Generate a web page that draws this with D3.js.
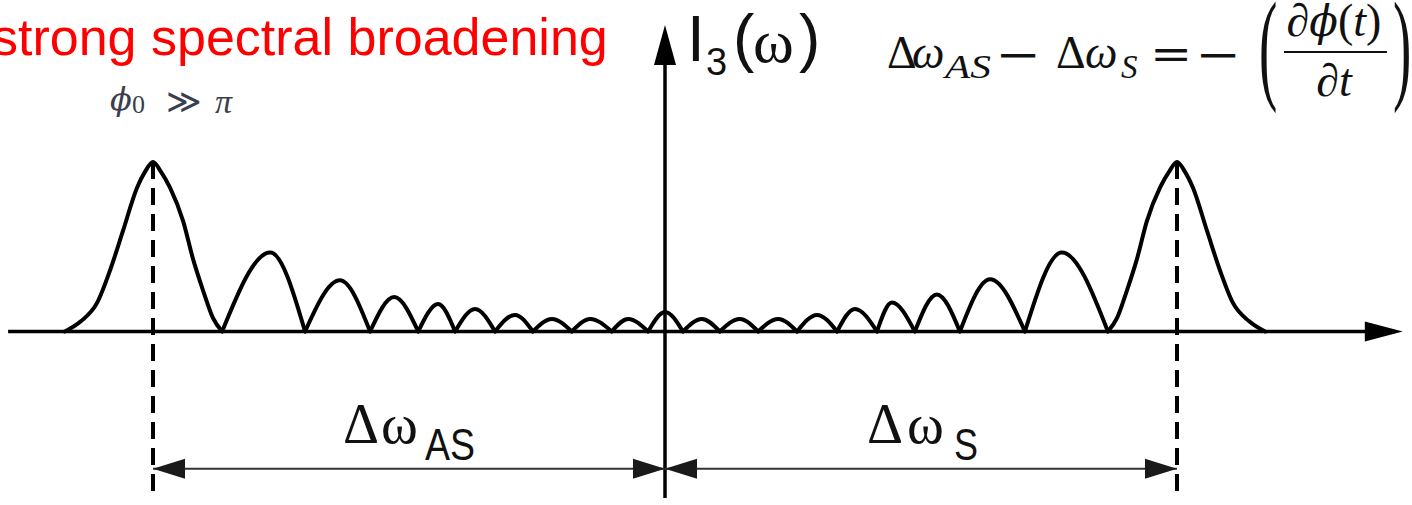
<!DOCTYPE html>
<html>
<head>
<meta charset="utf-8">
<script src="https://cdn.jsdelivr.net/npm/d3@7"></script>
<style>
  html, body { margin: 0; padding: 0; background: #fff; overflow: hidden; }
  svg { display: block; }
</style>
</head>
<body>
<svg id="chart" width="1412" height="505"></svg>
<script>
// Third-order spectrum I3(ω) under strong self-phase modulation.
// Frequency offset in arbitrary units (anti-Stokes / Stokes maxima at ∓10),
// intensity normalised so that the outer maxima equal 100.
const omega = [
  -11.72, -11.41, -11.09, -10.84, -10.59, -10.31, -10.16, -10.0, -9.84, -9.67, -9.41, -9.22, -9.02, -8.83,
  -8.65, -7.71, -7.03, -6.35, -5.76, -5.29, -4.82, -4.43, -4.10, -3.71, -3.32, -2.93,
  -2.58, -2.21, -1.82, -1.46, -1.04, -0.72, -0.33, 0.0, 0.35, 0.72, 1.07, 1.46,
  1.82, 2.21, 2.58, 2.97, 3.36, 3.71, 4.14, 4.43, 4.88, 5.31, 5.76, 6.35,
  7.03, 7.75, 8.65, 8.83, 9.02, 9.22, 9.41, 9.67, 9.84, 10.0, 10.16, 10.31, 10.59, 10.84,
  11.09, 11.41, 11.72
];
const intensity = [
  0, 6, 17, 36, 59, 85, 94, 100, 94, 85, 65, 43, 24, 8,
  0, 46.6, 0, 30.2, 0, 20.3, 0, 16.2, 0, 13.3, 0, 9.8,
  0, 7.4, 0, 7.4, 0, 7.4, 0, 11.5, 0, 7.4, 0, 7.4,
  0, 7.4, 0, 9.8, 0, 13.3, 0, 17.1, 0, 21.9, 0, 30.8,
  0, 46.6, 0, 8, 24, 43, 65, 85, 94, 100, 94, 85, 59, 36,
  17, 6, 0
];

// Spectral shifts marked below the axis
const shiftOmega = [-10, 0, 10];
const shiftLabels = ["AS", "S"];

// Extent of the drawn axes, in data units
const omegaAxisRange = [-12.83, 14.41];
const intensityAxisRange = [-98.2, 180.8];
const dimensionLevel = -81;

const svg = d3.select("#chart");
svg.append("rect").attr("width", 1412).attr("height", 505).attr("fill", "#fff");

const x = d3.scaleLinear().domain([-10, 10]).range([153, 1177]);
const y = d3.scaleLinear().domain([0, 100]).range([331.5, 162]);

// ---- axes ----
const ax0 = x(omegaAxisRange[0]), ax1 = x(omegaAxisRange[1]);
const ay0 = y(intensityAxisRange[0]), ay1 = y(intensityAxisRange[1]);
const x0 = x(0), y0 = y(0);

svg.append("line")
  .attr("x1", ax0).attr("x2", ax1 - 30).attr("y1", y0).attr("y2", y0)
  .attr("stroke", "#000").attr("stroke-width", 3.5);
svg.append("path")
  .attr("d", `M${ax1},${y0} L${ax1 - 38},${y0 - 10} L${ax1 - 38},${y0 + 10} Z`)
  .attr("fill", "#000");

svg.append("line")
  .attr("x1", x0).attr("x2", x0).attr("y1", ay0).attr("y2", ay1 + 30)
  .attr("stroke", "#000").attr("stroke-width", 3.5);
svg.append("path")
  .attr("d", `M${x0},${ay1} L${x0 - 11},${ay1 + 40} L${x0 + 11},${ay1 + 40} Z`)
  .attr("fill", "#000");

// ---- dashed markers at the outermost maxima ----
[shiftOmega[0], shiftOmega[2]].forEach(w => {
  svg.append("line")
    .attr("x1", x(w)).attr("x2", x(w))
    .attr("y1", y(100)).attr("y2", ay0)
    .attr("stroke", "#000").attr("stroke-width", 4)
    .attr("stroke-dasharray", "17,9");
});

// ---- spectrum: each lobe runs from one zero to the next ----
const points = omega.map((w, i) => [w, intensity[i]]);
const lobes = [];
let current = [points[0]];
for (let i = 1; i < points.length; i++) {
  current.push(points[i]);
  if (points[i][1] === 0) {
    lobes.push(current);
    current = [points[i]];
  }
}
const lobeLine = d3.line()
  .x(d => x(d[0]))
  .y(d => y(d[1]))
  .curve(d3.curveMonotoneX);

svg.append("g").selectAll("path").data(lobes).join("path")
  .attr("d", lobeLine)
  .attr("fill", "none")
  .attr("stroke", "#000")
  .attr("stroke-width", 4)
  .attr("stroke-linecap", "round")
  .attr("stroke-linejoin", "round");

// ---- dimension arrows Δω_AS and Δω_S ----
const yd = y(dimensionLevel);
const dim = svg.append("g");
for (let k = 0; k < 2; k++) {
  const a = x(shiftOmega[k]), b = x(shiftOmega[k + 1]);
  dim.append("line")
    .attr("x1", a).attr("x2", b).attr("y1", yd).attr("y2", yd)
    .attr("stroke", "#333").attr("stroke-width", 2);
  dim.append("path")
    .attr("d", `M${a},${yd} L${a + 32},${yd - 10} L${a + 32},${yd + 10} Z`)
    .attr("fill", "#1a1a1a");
  dim.append("path")
    .attr("d", `M${b},${yd} L${b - 32},${yd - 10} L${b - 32},${yd + 10} Z`)
    .attr("fill", "#1a1a1a");
}

const serif = "'Liberation Serif', 'DejaVu Serif', serif";
const sans = "'Liberation Sans', Arial, sans-serif";
const opsFont = "'DejaVu Serif', serif";

// Δω labels over each arrow
const dimLabels = [
  { dx: 343, wx: 381, sx: 425, sw: 50, sub: shiftLabels[0] },
  { dx: 867, wx: 907, sx: 954, sw: 24, sub: shiftLabels[1] }
];
dimLabels.forEach(l => {
  const t = svg.append("text").attr("fill", "#111");
  t.append("tspan").attr("x", l.dx).attr("y", 443)
    .attr("font-family", serif).attr("font-size", 56).text("Δ");
  t.append("tspan").attr("x", l.wx).attr("y", 443)
    .attr("font-family", serif).attr("font-size", 56).text("ω");
  svg.append("text")
    .attr("x", l.sx).attr("y", 460)
    .attr("font-family", sans).attr("font-size", 44)
    .attr("textLength", l.sw).attr("lengthAdjust", "spacingAndGlyphs")
    .attr("fill", "#111").text(l.sub);
});

// ---- axis title I3(ω) ----
const ttl = svg.append("g").attr("fill", "#111");
ttl.append("text").attr("x", 687).attr("y", 61)
  .attr("font-family", sans).attr("font-size", 64).text("I");
ttl.append("text").attr("x", 706).attr("y", 75)
  .attr("font-family", sans).attr("font-size", 38).text("3");
ttl.append("text").attr("x", 733).attr("y", 60)
  .attr("font-family", sans).attr("font-size", 64).text("(");
ttl.append("text").attr("x", 753).attr("y", 62)
  .attr("font-family", serif).attr("font-size", 62).text("ω");
ttl.append("text").attr("x", 799).attr("y", 60)
  .attr("font-family", sans).attr("font-size", 64).text(")");

// ---- headline ----
svg.append("text")
  .attr("x", -8).attr("y", 55)
  .attr("font-family", sans).attr("font-size", 52)
  .attr("fill", "#ff0000")
  .text("strong spectral broadening");

// ---- ϕ0 ≫ π ----
const cond = svg.append("g").attr("fill", "#3a3e4e");
cond.append("text").attr("x", 110).attr("y", 110).attr("font-size", 32)
  .attr("font-family", opsFont).attr("font-style", "italic").text("ϕ");
cond.append("text").attr("x", 132).attr("y", 113).attr("font-size", 26)
  .attr("font-family", serif).text("0");
cond.append("text").attr("x", 166).attr("y", 113).attr("font-size", 34)
  .attr("font-family", opsFont).text("≫");
cond.append("text").attr("x", 215).attr("y", 113).attr("font-size", 34)
  .attr("font-family", serif).attr("font-style", "italic").text("π");

// ---- relation between the two shifts ----
const eq = svg.append("g").attr("fill", "#111");
const eqPart = (txt, px, py, size, italic, fam) => eq.append("text")
  .attr("x", px).attr("y", py).attr("font-size", size)
  .attr("font-family", fam || serif)
  .attr("font-style", italic ? "italic" : "normal").text(txt);

// operator glyph widened horizontally about its centre
const eqOp = (txt, centre, baseline, stretch) => {
  const t = eq.append("text").attr("x", 0).attr("y", 0)
    .attr("font-size", 42).attr("font-family", opsFont).text(txt);
  const bb = t.node().getBBox();
  const mid = bb.x + bb.width / 2;
  t.attr("transform", `translate(${centre - mid * stretch},${baseline}) scale(${stretch},1)`);
};

eqPart("Δ", 887, 68, 46, false);
eqPart("ω", 912, 68, 46, true);
eqPart("AS", 945, 78, 33, true).attr("textLength", 46).attr("lengthAdjust", "spacingAndGlyphs");
eqOp("−", 1018, 69, 1.3);
eqPart("Δ", 1056, 68, 46, false);
eqPart("ω", 1085, 68, 46, true);
eqPart("S", 1121, 78, 33, true);
eqOp("=", 1171, 69, 1.2);
eqOp("−", 1218, 69, 1.3);
eq.append("text").attr("font-size", 44).attr("font-family", serif)
  .attr("transform", "translate(1259,87) scale(1.25,2.8)").text("(");
eq.append("text").attr("font-size", 44).attr("font-family", serif)
  .attr("transform", "translate(1393,87) scale(1.25,2.8)").text(")");
eq.append("text").attr("x", 1334).attr("y", 36).attr("font-size", 46)
  .attr("text-anchor", "middle").attr("font-family", serif)
  .html("∂<tspan font-style='italic' font-family=\"'DejaVu Serif', serif\" font-size='42'>ϕ</tspan>(<tspan font-style='italic'>t</tspan>)");
eq.append("line").attr("x1", 1284).attr("x2", 1387).attr("y1", 52).attr("y2", 52)
  .attr("stroke", "#111").attr("stroke-width", 2);
eq.append("text").attr("x", 1334).attr("y", 96).attr("font-size", 46)
  .attr("text-anchor", "middle").attr("font-family", serif)
  .html("∂<tspan font-style='italic'>t</tspan>");
</script>
</body>
</html>
